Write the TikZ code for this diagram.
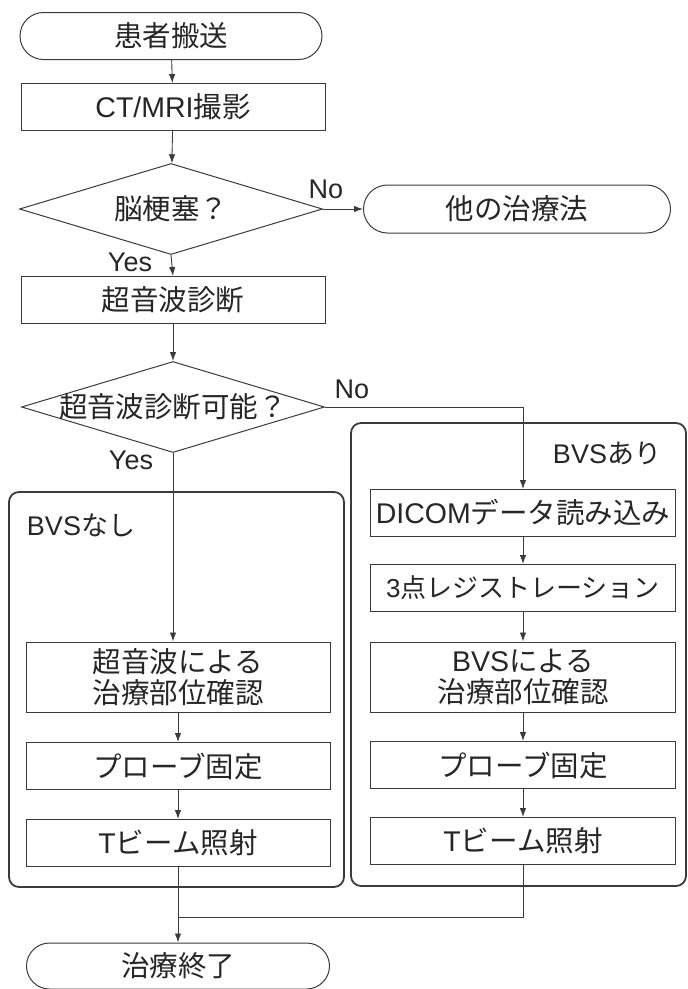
\documentclass[tikz,border=0pt]{standalone}
\usepackage{fontspec}
\setmainfont{Liberation Sans}
\newfontfamily\jp{Noto Sans CJK JP}
\usetikzlibrary{shapes.geometric,shapes.misc,arrows.meta}
\definecolor{ln}{HTML}{3A3A3A}
\definecolor{tx}{HTML}{262626}
\begin{document}
\begin{tikzpicture}[x=1pt,y=-1pt,
  txt/.style={font=\fontsize{28.5}{31}\selectfont, text=tx, align=center},
  box/.style={txt, draw=ln, line width=1pt, minimum width=304pt, minimum height=47pt, inner sep=0pt},
  term/.style={txt, draw=ln, line width=1pt, rounded rectangle, minimum width=302pt, minimum height=47pt, inner sep=0pt},
  dia/.style={draw=ln, line width=1pt, diamond, minimum width=303pt, minimum height=91pt, inner sep=0pt},
  grp/.style={draw=ln, line width=1.8pt, rounded corners=10pt, inner sep=0pt},
  arr/.style={-{Latex[length=9pt,width=6.5pt]}, draw=ln, line width=0.9pt},
  lbl/.style={font=\fontsize{27}{30}\selectfont, text=tx, inner sep=0pt}]
\useasboundingbox (0,0) rectangle (688,989);
% groups
\node[grp, minimum width=335pt, minimum height=463pt] (gR) at (518.5,654.5) {};
\node[grp, minimum width=335pt, minimum height=395pt] (gL) at (176.5,689.5) {};
\node[lbl] (gRl) at (607,453) {BVS{\jp あり}};
\node[lbl] (gLl) at (81,525) {BVS{\jp なし}};
% main column
\node[term] (t1) at (171,36) {\jp 患者搬送};
\node[box] (b1) at (173,107) {CT/MRI{\jp 撮影}};
\node[dia] (d1) at (171,209) {};
\node[txt] (d1t) at (d1.center) {\jp 脳梗塞？};
\node[term, minimum width=307pt, minimum height=48pt] (t2) at (517,209) {\jp 他の治療法};
\node[box] (b2) at (173,300) {\jp 超音波診断};
\node[dia] (d2) at (173,407) {};
\node[txt] (d2t) at (d2.center) {\jp 超音波診断可能？};
% left column
\node[box, minimum height=70pt] (l1) at (178,677) {\jp 超音波による\\\jp 治療部位確認};
\node[box] (l2) at (178,766) {\jp プローブ固定};
\node[box] (l3) at (178,843) {T{\jp ビーム照射}};
% right column
\node[box, minimum width=305pt] (r1) at (523,513) {DICOM{\jp データ読み込み}};
\node[box, minimum width=305pt, font=\fontsize{26}{30}\selectfont] (r2) at (523,588) {3{\jp 点レジストレーション}};
\node[box, minimum width=305pt, minimum height=70pt] (r3) at (523,677) {BVS{\jp による}\\\jp 治療部位確認};
\node[box, minimum width=305pt] (r4) at (523,765) {\jp プローブ固定};
\node[box, minimum width=305pt] (r5) at (523,841) {T{\jp ビーム照射}};
\node[term, minimum width=303pt, minimum height=46pt] (t3) at (178,966) {\jp 治療終了};
% labels
\node[lbl] (no1) at (326,189) {No};
\node[lbl] (yes1) at (130,262) {Yes};
\node[lbl] (no2) at (352,389) {No};
\node[lbl] (yes2) at (131,460) {Yes};
% connectors
\draw[arr] (t1) -- (b1);
\draw[arr] (b1) -- (d1);
\draw[arr] (d1.east) -- (t2.west);
\draw[arr] (d1.south) -- (b2.north);
\draw[arr] (b2.south) -- (d2.north);
\draw[arr] (d2.east) -| (r1.north);
\draw[arr] (d2.south) -- (d2.south |- l1.north);
\draw[arr] (l1) -- (l2);
\draw[arr] (l2) -- (l3);
\draw[arr] (r1) -- (r2);
\draw[arr] (r2) -- (r3);
\draw[arr] (r3) -- (r4);
\draw[arr] (r4) -- (r5);
\coordinate (mrg) at (178,917);
\draw[arr] (l3.south) -- (t3.north);
\draw[draw=ln, line width=0.9pt] (r5.south) |- (mrg);
\end{tikzpicture}
\end{document}
